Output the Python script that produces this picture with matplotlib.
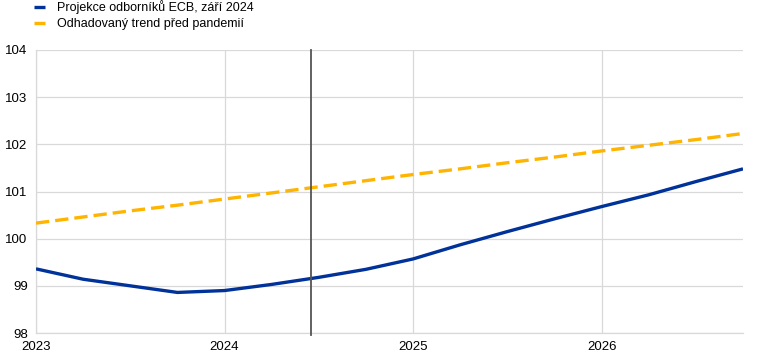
import matplotlib
matplotlib.use("Agg")
import matplotlib.pyplot as plt
import numpy as np

plt.rcParams['font.family'] = ['Liberation Sans', 'DejaVu Sans']

quarters = [2023.0, 2023.25, 2023.5, 2023.75, 2024.0, 2024.25, 2024.5, 2024.75,
            2025.0, 2025.25, 2025.5, 2025.75, 2026.0, 2026.25, 2026.5, 2026.75]
projection = [99.36, 99.14, 99.00, 98.86, 98.90, 99.03, 99.18, 99.35,
              99.57, 99.87, 100.15, 100.42, 100.68, 100.93, 101.21, 101.48]
trend = [100.33, 100.46, 100.59, 100.71, 100.84, 100.97, 101.10, 101.23,
         101.36, 101.48, 101.61, 101.73, 101.86, 101.98, 102.10, 102.23]
cutoff = 2024.46
year_ticks = [2023, 2024, 2025, 2026]
y_ticks = [98, 99, 100, 101, 102, 103, 104]
labels = ["Projekce odborníků ECB, září 2024", "Odhadovaný trend před pandemií"]

BLUE = "#003299"
YELLOW = "#FFB400"

fig = plt.figure(figsize=(7.8, 3.61), dpi=100)
ax = fig.add_axes([36/780, 1-333/361, (743-36)/780, (333-50)/361])

l1, = ax.plot(quarters, projection, color=BLUE, lw=2.4, solid_capstyle='butt', zorder=3)
l2, = ax.plot(quarters, trend, color=YELLOW, lw=2.4, dashes=(4, 1.8), zorder=3)
ax.axvline(cutoff, color="#555555", lw=1.3, zorder=4, ymin=-0.007, clip_on=False)

ax.set_xlim(2023, 2026.75)
ax.set_ylim(98, 104)
ax.set_xticks(year_ticks)
ax.set_xticklabels([str(y) for y in year_ticks])
ax.set_yticks(y_ticks)
ax.grid(True, color="#d9d9d9", lw=0.9, zorder=0)
ax.set_axisbelow(True)
for s in ['top', 'right']:
    ax.spines[s].set_visible(False)
for s in ['left', 'bottom']:
    ax.spines[s].set_color("#d9d9d9")
    ax.spines[s].set_linewidth(0.9)
ax.tick_params(length=0, labelsize=9.5, colors="#000000", pad=6)
ax.tick_params(axis='x', pad=6)

leg = fig.legend([l1, l2], labels, loc='upper left', bbox_to_anchor=(0.042, 1.003),
                 frameon=False, fontsize=9, handlelength=0.9, handletextpad=0.9,
                 labelspacing=0.35, borderaxespad=0, borderpad=0.1)

fig.savefig("out.png", dpi=100)
